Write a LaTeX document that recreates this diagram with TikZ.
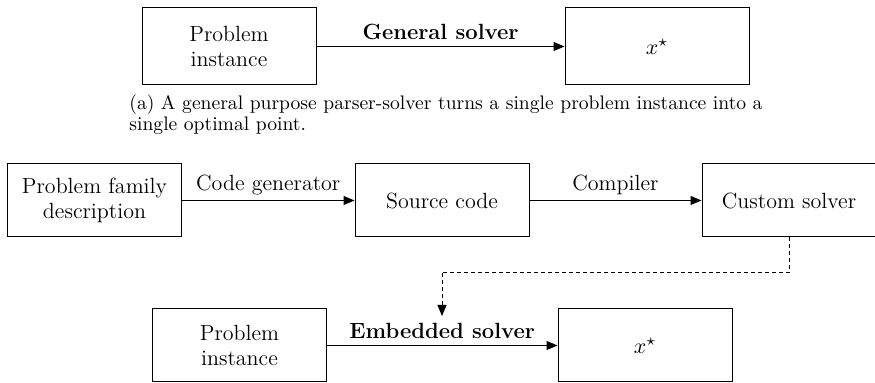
\documentclass[tikz,border=0pt]{standalone}
\usetikzlibrary{arrows.meta}
\begin{document}
\begin{tikzpicture}[x=0.5pt,y=-0.5pt,
  box/.style={draw, line width=0.5pt, minimum width=87pt, minimum height=37pt, inner sep=0pt, align=center, font=\fontsize{11}{12.3}\selectfont},
  conn/.style={line width=0.5pt, -{Triangle[length=5.5pt,width=4.5pt]}},
  lbl/.style={font=\fontsize{11}{12.3}\selectfont, inner sep=0pt}]
\useasboundingbox (0,0) rectangle (875,383);
% (a)
\node[box, minimum height=38.5pt] (p1) at (229,46.5) {Problem\\instance};
\node[box, minimum height=38.5pt, minimum width=92pt] (x1) at (657,46.5) {$x^\star$};
\draw[conn] (p1) -- (x1) node[lbl, midway, above=3pt] {\textbf{General solver}};
\node[anchor=north west, align=left, inner sep=0pt, font=\fontsize{9.8}{10.6}\selectfont] (cap) at (129,94)
  {(a) A general purpose parser-solver turns a single problem instance into a\\single optimal point.};
% (b)
\node[box, minimum height=36.5pt] (fam) at (94.5,200.5) {Problem family\\description};
\node[box, minimum height=36.5pt] (src) at (442,200.5) {Source code};
\node[box, minimum height=36.5pt] (cus) at (789,200.5) {Custom solver};
\draw[conn] (fam) -- (src) node[lbl, midway, above=2.6pt] {Code generator};
\draw[conn] (src) -- (cus) node[lbl, midway, above=2.6pt] {Compiler};
\node[box, minimum height=36.5pt] (p2) at (239.5,345.5) {Problem\\instance};
\node[box, minimum height=36.5pt] (x2) at (645,345.5) {$x^\star$};
\draw[conn] (p2) -- (x2) node[lbl, midway, above=3pt] {\textbf{Embedded solver}};
\coordinate (turn) at (442,273);
\coordinate (dend) at (442,316);
\draw[line width=0.5pt, dashed, dash pattern=on 2pt off 1.5pt] (cus.south) |- (turn);
\draw[line width=0.5pt, dashed, dash pattern=on 2pt off 1.5pt, -{Triangle[length=5.5pt,width=4.5pt]}] (turn) -- (dend);
\end{tikzpicture}
\end{document}
